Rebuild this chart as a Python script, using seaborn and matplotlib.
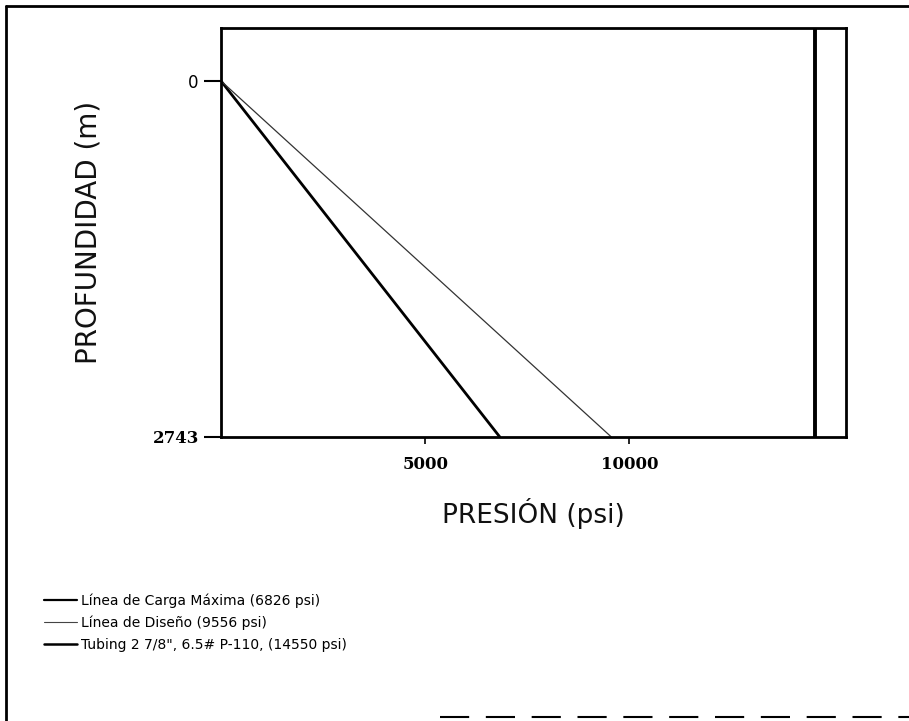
import matplotlib
matplotlib.use("Agg")
import matplotlib.pyplot as plt
from matplotlib.lines import Line2D
import seaborn as sns
import pandas as pd

# Depth (m) and pressure (psi) profiles
depth_m = [0, 2743]
max_load_psi = [0, 6826]
design_psi = [0, 9556]
tubing_rating_psi = 14550

x_ticks = [5000, 10000]
y_ticks = [0, 2743]

legend_labels = [
    "Línea de Carga Máxima (6826 psi)",
    "Línea de Diseño (9556 psi)",
    'Tubing 2 7/8", 6.5# P-110, (14550 psi)',
]

sns.set_style("white")
plt.rcParams["font.family"] = ["DejaVu Sans"]

df = pd.DataFrame({
    "profundidad": depth_m * 2,
    "presion": max_load_psi + design_psi,
    "serie": [legend_labels[0]] * 2 + [legend_labels[1]] * 2,
})

fig = plt.figure(figsize=(9.09, 7.21), dpi=100)
ax = fig.add_axes([221 / 909, 1 - 437 / 721, 625 / 909, 409 / 721])

sns.lineplot(data=df[df.serie == legend_labels[0]], x="presion", y="profundidad",
             color="black", linewidth=2.0, ax=ax, legend=False, sort=False)
sns.lineplot(data=df[df.serie == legend_labels[1]], x="presion", y="profundidad",
             color="#333333", linewidth=0.9, ax=ax, legend=False, sort=False)
ax.axvline(tubing_rating_psi, color="black", linewidth=2.8)

ax.set_xlim(0, 15300)
ax.set_ylim(2743, -408)

ax.set_xticks(x_ticks)
ax.set_xticklabels([str(v) for v in x_ticks], fontfamily="DejaVu Serif",
                   fontweight="bold", fontsize=12)
ax.set_yticks(y_ticks)
ylabels = ax.set_yticklabels([str(v) for v in y_ticks], fontsize=12)
ylabels[0].set_fontfamily("DejaVu Sans")
ylabels[1].set_fontfamily("DejaVu Serif")
ylabels[1].set_fontweight("bold")

ax.tick_params(axis="x", direction="out", length=5, width=1.2, pad=9,
               bottom=True, colors="black")
ax.tick_params(axis="y", direction="out", length=12, width=1.5, pad=4,
               left=True, colors="black")

for s in ax.spines.values():
    s.set_linewidth(2.0)
    s.set_color("black")

ax.set_xlabel("PRESIÓN (psi)", fontsize=19, labelpad=18, color="#111111")
ax.set_ylabel("PROFUNDIDAD (m)", fontsize=20, labelpad=36, color="#111111")

handles = [
    Line2D([], [], color="black", linewidth=1.6),
    Line2D([], [], color="#444444", linewidth=0.8),
    Line2D([], [], color="black", linewidth=1.8),
]
leg = fig.legend(handles, legend_labels, loc="upper left",
                 bbox_to_anchor=(38 / 909, 1 - 588 / 721), frameon=False,
                 fontsize=10, handlelength=2.4, handletextpad=0.3,
                 labelspacing=0.55, borderaxespad=0)
for t in leg.get_texts():
    t.set_color("black")

# page border
fig.add_artist(Line2D([6 / 909, 6 / 909], [0, 1 - 6 / 721], color="black",
                      linewidth=2.0, transform=fig.transFigure))
fig.add_artist(Line2D([6 / 909, 1], [1 - 6 / 721, 1 - 6 / 721], color="black",
                      linewidth=2.0, transform=fig.transFigure))
fig.add_artist(Line2D([440 / 909, 1], [4 / 721, 4 / 721], color="black",
                      linewidth=1.5, linestyle=(0, (14, 8)),
                      transform=fig.transFigure))

fig.savefig("out.png", dpi=100)
